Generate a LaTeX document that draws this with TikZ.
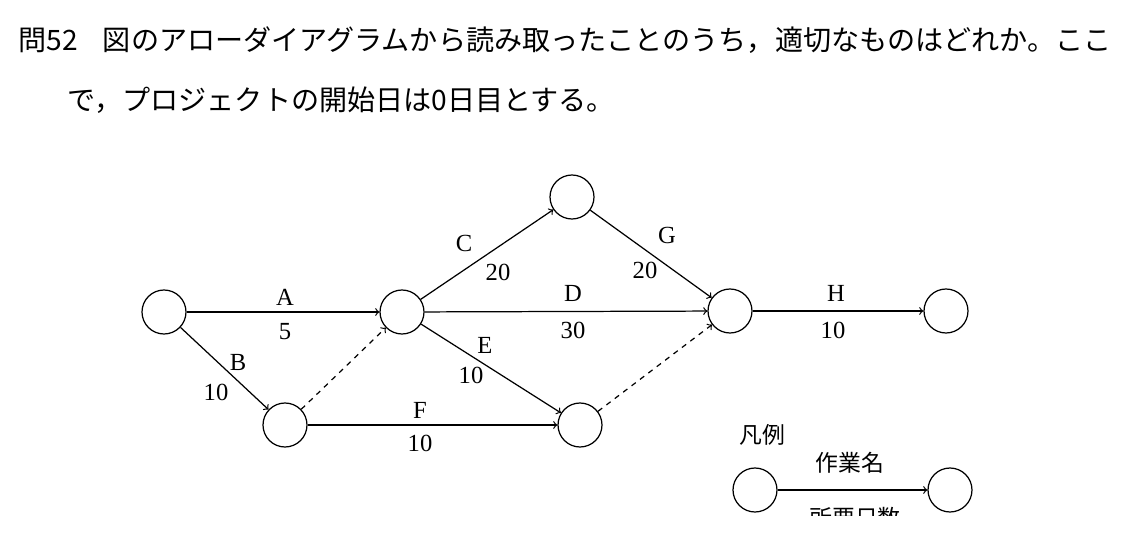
\documentclass[tikz,border=0pt]{standalone}
\usepackage{fontspec}
\setmainfont{Liberation Serif}
\newfontfamily\jpfont{Noto Sans CJK JP}
\usetikzlibrary{arrows, positioning}
\tikzset{
  ev/.style={draw, circle, minimum size=0.88cm, inner sep=0pt, line width=0.7pt},
  act/.style={->, line width=0.7pt},
  dummy/.style={->, line width=0.7pt, dashed},
  lbl/.style={font=\fontsize{14}{16}\selectfont, inner sep=1pt}
}
\begin{document}
\begin{tikzpicture}[x=0.02cm, y=-0.02cm, >=to]
    \useasboundingbox (0,0) rectangle (1144,537);

    % question text
    \node[anchor=west, inner sep=0pt, font=\jpfont\fontsize{16}{18}\selectfont] (q1) at (18,40) {問52\hspace{0.9em}図のアローダイアグラムから読み取ったことのうち，適切なものはどれか。ここ};
    \node[anchor=west, inner sep=0pt, font=\jpfont\fontsize{16}{18}\selectfont] (q2) at (67,100) {で，プロジェクトの開始日は0日目とする。};

    \node[ev] (s) at (164,312) {};
    \node[ev] (m) at (402,312) {};
    \node[ev] (top) at (572,197) {};
    \node[ev] (j) at (730,311) {};
    \node[ev] (end) at (946,311) {};
    \node[ev] (lo1) at (285,425) {};
    \node[ev] (lo2) at (580,425) {};

    \draw[act] (s) -- (m);
    \draw[act] (s) -- (lo1);
    \draw[act] (m) -- (top);
    \draw[act] (m) -- (j);
    \draw[act] (m) -- (lo2);
    \draw[act] (lo1) -- (lo2);
    \draw[act] (top) -- (j);
    \draw[act] (j) -- (end);
    \draw[dummy] (lo1) -- (m);
    \draw[dummy] (lo2) -- (j);

    \node[lbl] (la) at (285,297) {A};
    \node[lbl] (da) at (285,332) {5};
    \node[lbl] (lb) at (238,362) {B};
    \node[lbl] (db) at (216,392) {10};
    \node[lbl] (lc) at (464,243) {C};
    \node[lbl] (dc) at (498,272) {20};
    \node[lbl] (ld) at (573,293) {D};
    \node[lbl] (dd) at (573,330) {30};
    \node[lbl] (le) at (485,345) {E};
    \node[lbl] (de) at (471,375) {10};
    \node[lbl] (lf) at (420,410) {F};
    \node[lbl] (df) at (420,443) {10};
    \node[lbl] (lg) at (667,235) {G};
    \node[lbl] (dg) at (645,270) {20};
    \node[lbl] (lh) at (836,293) {H};
    \node[lbl] (dh) at (833,330) {10};

    % legend
    \node[font=\jpfont\fontsize{13}{15}\selectfont] (leg) at (762,435) {凡例};
    \node[ev] (l1) at (755,490) {};
    \node[ev] (l2) at (950,490) {};
    \draw[act] (l1) -- (l2);
    \node[font=\jpfont\fontsize{13}{15}\selectfont] (lname) at (850,463) {作業名};
    \begin{scope}
      \clip (700,500) rectangle (1000,515);
      \node[font=\jpfont\fontsize{13}{15}\selectfont] (ldays) at (855,518) {所要日数};
    \end{scope}
\end{tikzpicture}
\end{document}
